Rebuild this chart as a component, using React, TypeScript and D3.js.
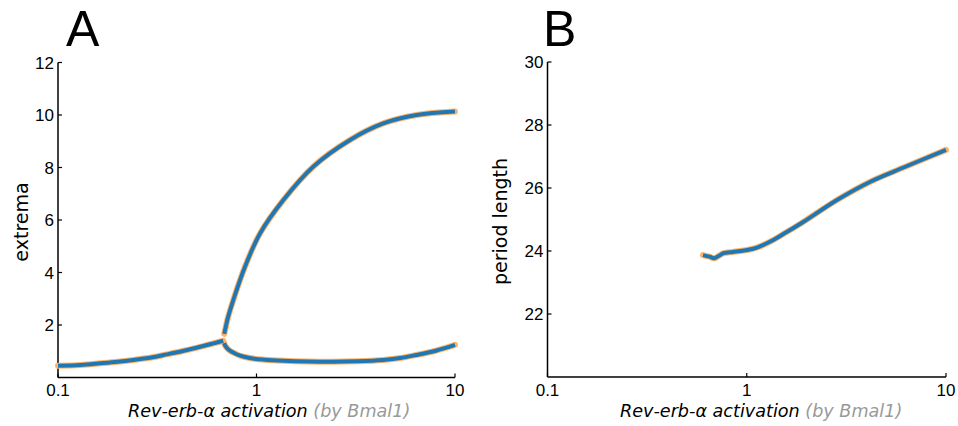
import React from "react";
import * as d3 from "d3";

// ---------- data ----------
const xTicks = [0.1, 1, 10];
const xTickLabels = ["0.1", "1", "10"];

const extremaTicks = [2, 4, 6, 8, 10, 12];
const periodTicks = [22, 24, 26, 28, 30];

// Panel A: lower branch before bifurcation
const lowerPreX = [0.1, 0.13, 0.163, 0.2, 0.24, 0.3, 0.353, 0.43, 0.52, 0.6, 0.68];
const lowerPreY = [0.45, 0.48, 0.54, 0.6, 0.67, 0.77, 0.88, 1.02, 1.17, 1.29, 1.4];

// Panel A: maxima branch after bifurcation
const upperX = [0.688, 0.719, 0.764, 0.875, 1.042, 1.365, 1.93, 2.96, 4.35, 6.41, 10];
const upperY = [1.66, 2.3, 2.95, 4.22, 5.49, 6.76, 8.03, 9.05, 9.68, 10.0, 10.13];

// Panel A: minima branch after bifurcation
const lowerPostX = [0.687, 0.695, 0.71, 0.735, 0.76, 0.82, 0.925, 1.1, 1.365, 1.8, 2.44, 3.2, 4.35, 5.3, 6.4, 8.0, 10];
const lowerPostY = [1.31, 1.22, 1.12, 1.02, 0.96, 0.84, 0.74, 0.68, 0.64, 0.61, 0.6, 0.62, 0.67, 0.74, 0.86, 1.02, 1.24];

// Panel B: period length
const periodX = [0.603, 0.65, 0.687, 0.73, 0.765, 0.85, 0.927, 1.02, 1.125, 1.312, 1.556, 1.928, 2.837, 4.17, 6.12, 10];
const periodY = [23.87, 23.82, 23.77, 23.86, 23.93, 23.97, 24.0, 24.04, 24.11, 24.3, 24.57, 24.93, 25.62, 26.2, 26.65, 27.21];

const zip = (xs: number[], ys: number[]) => xs.map((x, i) => [x, ys[i]] as [number, number]);

const BLUE = "#1f77b4";
const ORANGE = "#fdb46a";
const TICK_FONT = "'Liberation Sans', Arial, sans-serif";
const LABEL_FONT = "'DejaVu Sans', sans-serif";

type PanelProps = {
  x0: number;
  x1: number;
  y0: number;
  y1: number;
  yDomain: [number, number];
  yTicks: number[];
  yLabel: string;
  yLabelX: number;
  letter: string;
  letterX: number;
  xLabelX: number;
  series: [number, number][][];
};

function Panel(p: PanelProps) {
  const x = d3.scaleLog().domain([0.1, 10]).range([p.x0, p.x1]);
  const y = d3.scaleLinear().domain(p.yDomain).range([p.y1, p.y0]);
  const line = d3
    .line<[number, number]>()
    .x((d) => x(d[0]))
    .y((d) => y(d[1]))
    .curve(d3.curveCatmullRom.alpha(0.5));
  const midY = (p.y0 + p.y1) / 2;
  return (
    <g>
      <text x={p.letterX} y={46} fontFamily={TICK_FONT} fontSize={50} fill="#000">
        {p.letter}
      </text>
      {/* axes */}
      <line x1={p.x0} x2={p.x0} y1={p.y0} y2={p.y1} stroke="#000" strokeWidth={1.5} />
      <line x1={p.x0} x2={p.x1} y1={p.y1} y2={p.y1} stroke="#000" strokeWidth={1.5} />
      {p.yTicks.map((t) => (
        <g key={"y" + t}>
          <line x1={p.x0} x2={p.x0 + 4} y1={y(t)} y2={y(t)} stroke="#000" strokeWidth={1.2} />
          <text
            x={p.x0 - 4}
            y={y(t)}
            dy="0.36em"
            textAnchor="end"
            fontFamily={TICK_FONT}
            fontSize={17}
            fill="#000"
          >
            {t}
          </text>
        </g>
      ))}
      {xTicks.map((t, i) => (
        <g key={"x" + t}>
          <line x1={x(t)} x2={x(t)} y1={p.y1} y2={p.y1 - 4} stroke="#000" strokeWidth={1.2} />
          <text
            x={x(t)}
            y={396}
            textAnchor="middle"
            fontFamily={TICK_FONT}
            fontSize={17}
            fill="#000"
          >
            {xTickLabels[i]}
          </text>
        </g>
      ))}
      {/* series */}
      {p.series.map((s, i) => (
        <path
          key={"o" + i}
          d={line(s) || ""}
          fill="none"
          stroke={ORANGE}
          strokeWidth={6}
          strokeLinecap="round"
          strokeLinejoin="round"
        />
      ))}
      {p.series.map((s, i) => (
        <path
          key={"b" + i}
          d={line(s) || ""}
          fill="none"
          stroke={BLUE}
          strokeWidth={4}
          strokeLinecap="butt"
          strokeLinejoin="round"
        />
      ))}
      {/* labels */}
      <text
        transform={`translate(${p.yLabelX},${midY + 2}) rotate(-90)`}
        textAnchor="middle"
        fontFamily={LABEL_FONT}
        fontSize={19}
        fill="#000"
      >
        {p.yLabel}
      </text>
      <text x={p.xLabelX} y={417} fontFamily={LABEL_FONT} fontStyle="italic" fontSize={17.6} fill="#000">
        Rev-erb-α activation <tspan fill="#999">(by Bmal1)</tspan>
      </text>
    </g>
  );
}

export default function App() {
  return (
    <svg
      width={958}
      height={426}
      style={{ position: "absolute", left: 0, top: 0, background: "#fff" }}
    >
      <rect width={958} height={426} fill="#fff" />
      <Panel
        x0={58}
        x1={455}
        y0={62.5}
        y1={377.5}
        yDomain={[0, 12]}
        yTicks={extremaTicks}
        yLabel="extrema"
        yLabelX={28}
        letter="A"
        letterX={66}
        xLabelX={128}
        series={[zip(lowerPreX, lowerPreY), zip(upperX, upperY), zip(lowerPostX, lowerPostY)]}
      />
      <Panel
        x0={547.5}
        x1={946}
        y0={62}
        y1={377}
        yDomain={[20, 30]}
        yTicks={periodTicks}
        yLabel="period length"
        yLabelX={507}
        letter="B"
        letterX={543}
        xLabelX={620}
        series={[zip(periodX, periodY)]}
      />
    </svg>
  );
}
